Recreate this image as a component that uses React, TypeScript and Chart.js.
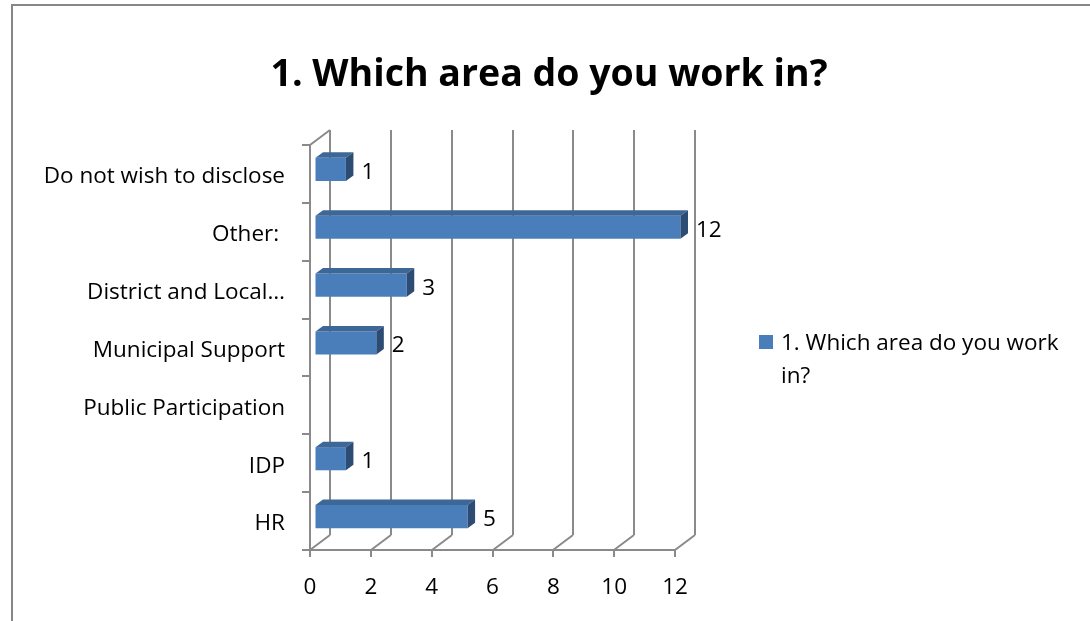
import React, { useEffect, useRef } from "react";
import { Chart, registerables } from "chart.js";

Chart.register(...registerables);

const categories = [
  "Do not wish to disclose",
  "Other: ",
  "District and Local…",
  "Municipal Support",
  "Public Participation",
  "IDP",
  "HR",
];
const values: (number | null)[] = [1, 12, 3, 2, null, 1, 5];
const seriesLabel = "1. Which area do you work in?";
const titleText = "1. Which area do you work in?";
const xMin = 0;
const xMax = 12;
const xStep = 2;

const FONT = "'Open Sans', 'Noto Sans', sans-serif";
const FS = 22.5;
const GRID = "#8a8a8a";
const FRONT = "#4a7ebb";
const TOP = "#3d6797";
const SIDE = "#2d4c73";

// 3D offsets
const WALL_DX = 20;
const WALL_DY = 15;
const BAR_OX = 5.5;
const BAR_OY = -4.5;
const BAR_DX = 7.5;
const BAR_DY = 5.5;

const threeD = {
  id: "threeD",
  beforeDraw(chart: any) {
    const ctx = chart.ctx;
    ctx.save();
    ctx.strokeStyle = "#878787";
    ctx.lineWidth = 2;
    ctx.beginPath();
    ctx.moveTo(12, 700);
    ctx.lineTo(12, 5);
    ctx.lineTo(1200, 5);
    ctx.stroke();
    ctx.restore();
  },
  beforeDatasetsDraw(chart: any) {
    const ctx = chart.ctx;
    const xs = chart.scales.x;
    const { left, right, top, bottom } = chart.chartArea;
    ctx.save();
    ctx.strokeStyle = GRID;
    ctx.lineWidth = 2;
    ctx.beginPath();
    xs.ticks.forEach((t: any) => {
      const px = Math.round(xs.getPixelForValue(t.value));
      ctx.moveTo(px + WALL_DX, top - WALL_DY);
      ctx.lineTo(px + WALL_DX, bottom - WALL_DY);
      ctx.moveTo(px, bottom);
      ctx.lineTo(px + WALL_DX, bottom - WALL_DY);
      ctx.moveTo(px, bottom);
      ctx.lineTo(px, bottom + 7);
    });
    ctx.moveTo(left, bottom);
    ctx.lineTo(right, bottom);
    ctx.moveTo(left, bottom);
    ctx.lineTo(left, top);
    ctx.lineTo(left + WALL_DX, top - WALL_DY);
    const n = categories.length;
    for (let i = 0; i <= n; i++) {
      const yb = Math.round(top + (i * (bottom - top)) / n);
      ctx.moveTo(left - 8, yb);
      ctx.lineTo(left, yb);
    }
    ctx.stroke();
    ctx.restore();
    ctx.save();
    ctx.translate(BAR_OX, BAR_OY);
  },
  afterDatasetsDraw(chart: any) {
    const ctx = chart.ctx;
    ctx.restore();
    const meta = chart.getDatasetMeta(0);
    ctx.save();
    meta.data.forEach((bar: any, i: number) => {
      const v = values[i];
      if (v === null || v === undefined) return;
      const p = bar.getProps(["x", "y", "base", "height"], true);
      const l = p.base + BAR_OX;
      const r = p.x + BAR_OX;
      const t = p.y - p.height / 2 + BAR_OY;
      const b = p.y + p.height / 2 + BAR_OY;
      ctx.fillStyle = TOP;
      ctx.beginPath();
      ctx.moveTo(l, t);
      ctx.lineTo(r, t);
      ctx.lineTo(r + BAR_DX, t - BAR_DY);
      ctx.lineTo(l + BAR_DX, t - BAR_DY);
      ctx.closePath();
      ctx.fill();
      ctx.fillStyle = SIDE;
      ctx.beginPath();
      ctx.moveTo(r, t);
      ctx.lineTo(r + BAR_DX, t - BAR_DY);
      ctx.lineTo(r + BAR_DX, b - BAR_DY);
      ctx.lineTo(r, b);
      ctx.closePath();
      ctx.fill();
      ctx.fillStyle = "#000";
      ctx.font = `${FS}px ${FONT}`;
      ctx.textAlign = "left";
      ctx.textBaseline = "middle";
      ctx.fillText(String(v), r + BAR_DX + 8, (t + b) / 2 + 3);
    });
    ctx.restore();
  },
  afterDraw(chart: any) {
    const ctx = chart.ctx;
    const ds = chart.data.datasets[0];
    ctx.save();
    ctx.fillStyle = ds.backgroundColor;
    ctx.fillRect(759, 335, 14, 14);
    ctx.fillStyle = "#000";
    ctx.font = `${FS}px ${FONT}`;
    ctx.textAlign = "left";
    ctx.textBaseline = "alphabetic";
    const maxW = 295;
    const words = String(ds.label).split(" ");
    const lines: string[] = [];
    let cur = "";
    words.forEach((w) => {
      const test = cur ? cur + " " + w : w;
      if (ctx.measureText(test).width > maxW && cur) {
        lines.push(cur);
        cur = w;
      } else cur = test;
    });
    if (cur) lines.push(cur);
    lines.forEach((ln, i) => ctx.fillText(ln, 781, 350 + i * 33));
    ctx.restore();
  },
};

export default function App() {
  const ref = useRef<HTMLCanvasElement | null>(null);
  useEffect(() => {
    if (!ref.current) return;
    const chart = new Chart(ref.current, {
      type: "bar",
      data: {
        labels: categories,
        datasets: [
          {
            label: seriesLabel,
            data: values as any,
            backgroundColor: FRONT,
            borderWidth: 0,
            categoryPercentage: 0.8,
            barPercentage: 0.5,
            clip: false as any,
          },
        ],
      },
      options: {
        indexAxis: "y",
        animation: false,
        responsive: false,
        layout: { padding: { left: 8, right: 0, top: 0, bottom: 0 } },
        scales: {
          x: {
            min: xMin,
            max: xMax,
            ticks: { stepSize: xStep, padding: 24, color: "#000", font: { family: FONT, size: FS } },
            grid: { display: false, drawTicks: false },
            border: { display: false },
            afterFit: (s: any) => {
              s.height = 71;
            },
          },
          y: {
            ticks: { padding: 25, labelOffset: 3, color: "#000", font: { family: FONT, size: FS } },
            grid: { display: false, drawTicks: false },
            border: { display: false },
            afterFit: (s: any) => {
              s.width = 302;
            },
          },
          yRight: {
            type: "linear",
            position: "right",
            display: true,
            ticks: { display: false },
            grid: { display: false, drawTicks: false },
            border: { display: false },
            afterFit: (s: any) => {
              s.width = 415;
            },
          },
        },
        plugins: {
          legend: { display: false },
          tooltip: { enabled: false },
          title: {
            display: true,
            text: titleText,
            color: "#000",
            font: { family: FONT, size: 37.5, weight: "bold" },
            padding: { top: 53, bottom: 47 },
          },
        },
      },
      plugins: [threeD],
    });
    return () => chart.destroy();
  }, []);
  return (
    <div style={{ position: "fixed", left: 0, top: 0, width: 1090, height: 621, background: "#fff" }}>
      <canvas ref={ref} width={1090} height={621} style={{ width: 1090, height: 621 }} />
    </div>
  );
}
